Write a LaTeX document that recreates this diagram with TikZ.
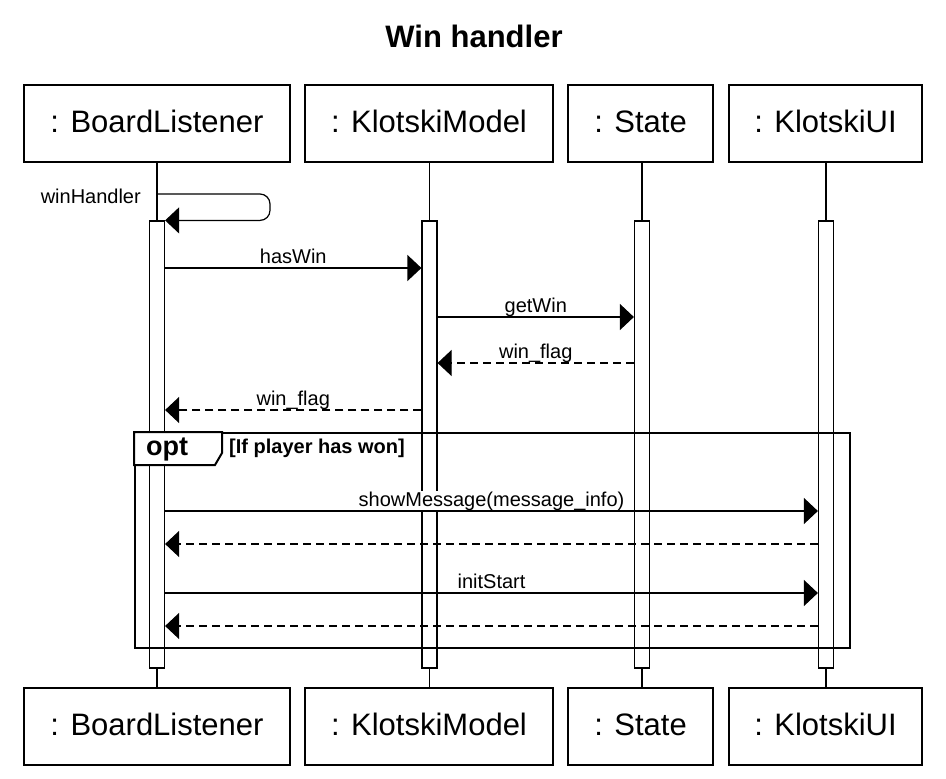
\documentclass[tikz,border=0pt]{standalone}
\usepackage{fontspec}
\setmainfont{Liberation Sans}
\usetikzlibrary{arrows.meta,calc}
\begin{document}
\begin{tikzpicture}[x=1pt,y=-1pt,
  thin line/.style={line width=1.2pt},
  obj/.style={draw, thin line, minimum width=#1, minimum height=77pt, inner sep=0pt,
    font=\fontsize{31}{31}\selectfont, text height=22pt, text depth=4pt},
  actbar/.style={draw, thin line, fill=white, minimum width=15pt, minimum height=447pt, inner sep=0pt},
  msg/.style={thin line, -{Triangle[length=14pt,width=26pt]}},
  ret/.style={msg, dash pattern=on 8pt off 5pt},
  mlabel/.style={font=\fontsize{20}{20}\selectfont, anchor=base, inner sep=1pt, fill=white, yshift=5pt},
  frameline/.style={draw, line width=2.4pt}
]
\useasboundingbox (0,0) rectangle (946,779);

% title
\node[anchor=base, font=\fontsize{31}{31}\selectfont\bfseries] (title) at (474,47) {Win handler};

% object boxes
\node[obj=266pt] (bl) at (157,123.5) {: BoardListener};
\node[obj=248pt] (km) at (429,123.5) {: KlotskiModel};
\node[obj=145pt] (st) at (640.5,123.5) {: State};
\node[obj=193pt] (ui) at (825.5,123.5) {: KlotskiUI};
\node[obj=266pt] (bl2) at (157,726.5) {: BoardListener};
\node[obj=248pt] (km2) at (429,726.5) {: KlotskiModel};
\node[obj=145pt] (st2) at (640.5,726.5) {: State};
\node[obj=193pt] (ui2) at (825.5,726.5) {: KlotskiUI};

% activation bars
\node[actbar] (bbl) at (157,444.5) {};
\node[actbar] (bkm) at (429.5,444.5) {};
\node[actbar] (bst) at (642,444.5) {};
\node[actbar] (bui) at (826,444.5) {};

% lifelines
\foreach \b/\t/\u in {bbl/bl/bl2, bkm/km/km2, bst/st/st2, bui/ui/ui2}{
  \draw[thin line] (\b.north |- \t.south) -- (\b.north);
  \draw[thin line] (\b.south) -- (\b.south |- \u.north);
}

% message levels
\coordinate (s1) at (0,194);
\coordinate (s2) at (270,0);
\coordinate (m1) at (0,268);
\coordinate (m2) at (0,317);
\coordinate (m3) at (0,363);
\coordinate (m4) at (0,410);
\coordinate (m5) at (0,511);
\coordinate (m6) at (0,544);
\coordinate (m7) at (0,593);
\coordinate (m8) at (0,626);

% labels (drawn before lines)
\node[font=\fontsize{20}{20}\selectfont, anchor=base east, inner sep=0pt] (lwin) at (141,203) {winHandler};
\path (bbl.east |- m1) -- (bkm.west |- m1) node[mlabel, midway] (l1) {hasWin};
\path (bkm.east |- m2) -- (bst.west |- m2) node[mlabel, midway] (l2) {getWin};
\path (bkm.east |- m3) -- (bst.west |- m3) node[mlabel, midway] (l3) {win\_flag};
\path (bbl.east |- m4) -- (bkm.west |- m4) node[mlabel, midway] (l4) {win\_flag};
\path (bbl.east |- m5) -- (bui.west |- m5) node[mlabel, midway] (l5) {showMessage(message\_info)};
\path (bbl.east |- m7) -- (bui.west |- m7) node[mlabel, midway] (l7) {initStart};

% self message
\draw[msg, rounded corners=10pt] (bbl.north |- s1) -- (s2 |- s1) -- (s2 |- bbl.north) -- (bbl.north east);

% messages
\draw[msg] (bbl.east |- m1) -- (bkm.west |- m1);
\draw[msg] (bkm.east |- m2) -- (bst.west |- m2);
\draw[ret] (bst.west |- m3) -- (bkm.east |- m3);
\draw[ret] (bkm.west |- m4) -- (bbl.east |- m4);
\draw[msg] (bbl.east |- m5) -- (bui.west |- m5);
\draw[ret] (bui.west |- m6) -- (bbl.east |- m6);
\draw[msg] (bbl.east |- m7) -- (bui.west |- m7);
\draw[ret] (bui.west |- m8) -- (bbl.east |- m8);

% opt frame
\node[frameline, anchor=north west, minimum width=715pt, minimum height=215pt, inner sep=0pt] (frame) at (134,432) {};
\draw[line width=2pt, fill=white] (frame.north west) -- ++(88,0) -- ++(0,21) -- ++(-7,12) -- ++(-81,0) -- cycle;
\node[font=\fontsize{27}{27}\selectfont\bfseries, anchor=base west, inner sep=0pt] (opt) at (146,455) {opt};
\node[font=\fontsize{20}{20}\selectfont\bfseries, anchor=base west, inner sep=0pt] (guard) at (229,453) {[If player has won]};
\end{tikzpicture}
\end{document}
